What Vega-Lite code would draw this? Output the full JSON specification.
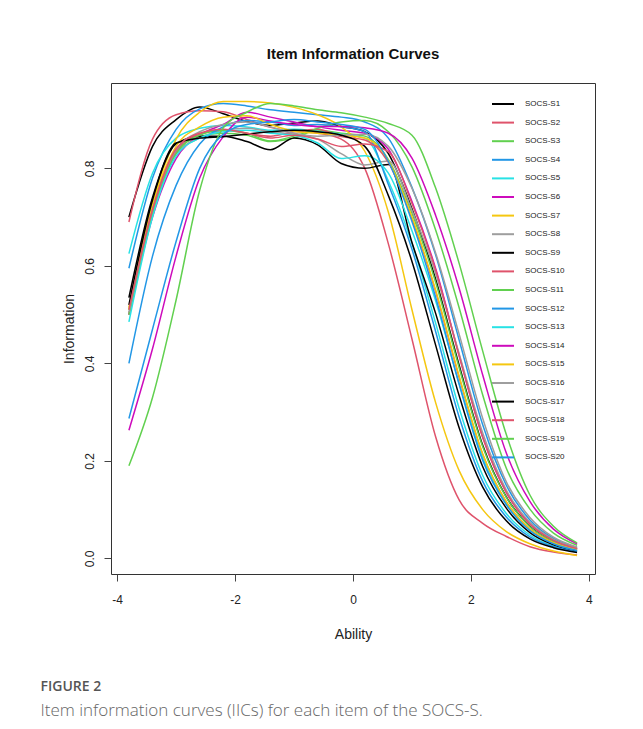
{
  "$schema": "https://vega.github.io/schema/vega-lite/v6.json",
  "background": "white",
  "padding": {"left": 40, "top": 46, "right": 5, "bottom": 5},
  "title": {
    "text": "FIGURE 2",
    "subtitle": "Item information curves (IICs) for each item of the SOCS-S.",
    "orient": "bottom", "anchor": "start", "frame": "bounds", "dx": -21, "offset": 38,
    "font": "Open Sans", "fontSize": 14, "fontWeight": 600, "color": "#555555",
    "subtitleFont": "Open Sans", "subtitleFontSize": 17, "subtitleFontWeight": 300,
    "subtitleColor": "#666666", "subtitlePadding": 9
  },
  "vconcat": [
    {
      "title": {"text": "Item Information Curves", "font": "Liberation Sans", "fontSize": 15, "fontWeight": "bold", "color": "#111111", "offset": 21, "anchor": "middle"},
      "width": 484,
      "height": 491,
      "data": {"values": [
{"item":"SOCS-S1","ability":-3.8,"info":0.70},{"item":"SOCS-S1","ability":-3.4,"info":0.845},{"item":"SOCS-S1","ability":-3.0,"info":0.90},{"item":"SOCS-S1","ability":-2.6,"info":0.926},{"item":"SOCS-S1","ability":-2.2,"info":0.912},{"item":"SOCS-S1","ability":-1.8,"info":0.896},{"item":"SOCS-S1","ability":-1.4,"info":0.888},{"item":"SOCS-S1","ability":-1.0,"info":0.893},{"item":"SOCS-S1","ability":-0.6,"info":0.897},{"item":"SOCS-S1","ability":-0.2,"info":0.886},{"item":"SOCS-S1","ability":0.2,"info":0.875},{"item":"SOCS-S1","ability":0.6,"info":0.83},{"item":"SOCS-S1","ability":1.0,"info":0.717},{"item":"SOCS-S1","ability":1.4,"info":0.573},{"item":"SOCS-S1","ability":1.8,"info":0.396},{"item":"SOCS-S1","ability":2.2,"info":0.232},{"item":"SOCS-S1","ability":2.6,"info":0.126},{"item":"SOCS-S1","ability":3.0,"info":0.066},{"item":"SOCS-S1","ability":3.4,"info":0.035},{"item":"SOCS-S1","ability":3.8,"info":0.019},
{"item":"SOCS-S2","ability":-3.8,"info":0.69},{"item":"SOCS-S2","ability":-3.4,"info":0.86},{"item":"SOCS-S2","ability":-3.0,"info":0.91},{"item":"SOCS-S2","ability":-2.6,"info":0.918},{"item":"SOCS-S2","ability":-2.2,"info":0.916},{"item":"SOCS-S2","ability":-1.8,"info":0.90},{"item":"SOCS-S2","ability":-1.4,"info":0.884},{"item":"SOCS-S2","ability":-1.0,"info":0.876},{"item":"SOCS-S2","ability":-0.6,"info":0.872},{"item":"SOCS-S2","ability":-0.2,"info":0.86},{"item":"SOCS-S2","ability":0.2,"info":0.80},{"item":"SOCS-S2","ability":0.6,"info":0.645},{"item":"SOCS-S2","ability":1.0,"info":0.45},{"item":"SOCS-S2","ability":1.4,"info":0.25},{"item":"SOCS-S2","ability":1.8,"info":0.12},{"item":"SOCS-S2","ability":2.2,"info":0.072},{"item":"SOCS-S2","ability":2.6,"info":0.045},{"item":"SOCS-S2","ability":3.0,"info":0.024},{"item":"SOCS-S2","ability":3.4,"info":0.013},{"item":"SOCS-S2","ability":3.8,"info":0.007},
{"item":"SOCS-S3","ability":-3.8,"info":0.51},{"item":"SOCS-S3","ability":-3.4,"info":0.72},{"item":"SOCS-S3","ability":-3.0,"info":0.835},{"item":"SOCS-S3","ability":-2.6,"info":0.865},{"item":"SOCS-S3","ability":-2.2,"info":0.872},{"item":"SOCS-S3","ability":-1.8,"info":0.868},{"item":"SOCS-S3","ability":-1.4,"info":0.855},{"item":"SOCS-S3","ability":-1.0,"info":0.862},{"item":"SOCS-S3","ability":-0.6,"info":0.878},{"item":"SOCS-S3","ability":-0.2,"info":0.872},{"item":"SOCS-S3","ability":0.2,"info":0.866},{"item":"SOCS-S3","ability":0.6,"info":0.818},{"item":"SOCS-S3","ability":1.0,"info":0.708},{"item":"SOCS-S3","ability":1.4,"info":0.567},{"item":"SOCS-S3","ability":1.8,"info":0.391},{"item":"SOCS-S3","ability":2.2,"info":0.229},{"item":"SOCS-S3","ability":2.6,"info":0.125},{"item":"SOCS-S3","ability":3.0,"info":0.065},{"item":"SOCS-S3","ability":3.4,"info":0.035},{"item":"SOCS-S3","ability":3.8,"info":0.019},
{"item":"SOCS-S4","ability":-3.8,"info":0.595},{"item":"SOCS-S4","ability":-3.4,"info":0.78},{"item":"SOCS-S4","ability":-3.0,"info":0.88},{"item":"SOCS-S4","ability":-2.6,"info":0.922},{"item":"SOCS-S4","ability":-2.2,"info":0.933},{"item":"SOCS-S4","ability":-1.8,"info":0.928},{"item":"SOCS-S4","ability":-1.4,"info":0.92},{"item":"SOCS-S4","ability":-1.0,"info":0.915},{"item":"SOCS-S4","ability":-0.6,"info":0.91},{"item":"SOCS-S4","ability":-0.2,"info":0.905},{"item":"SOCS-S4","ability":0.2,"info":0.895},{"item":"SOCS-S4","ability":0.6,"info":0.862},{"item":"SOCS-S4","ability":1.0,"info":0.761},{"item":"SOCS-S4","ability":1.4,"info":0.623},{"item":"SOCS-S4","ability":1.8,"info":0.448},{"item":"SOCS-S4","ability":2.2,"info":0.274},{"item":"SOCS-S4","ability":2.6,"info":0.15},{"item":"SOCS-S4","ability":3.0,"info":0.079},{"item":"SOCS-S4","ability":3.4,"info":0.041},{"item":"SOCS-S4","ability":3.8,"info":0.022},
{"item":"SOCS-S5","ability":-3.8,"info":0.625},{"item":"SOCS-S5","ability":-3.4,"info":0.79},{"item":"SOCS-S5","ability":-3.0,"info":0.862},{"item":"SOCS-S5","ability":-2.6,"info":0.882},{"item":"SOCS-S5","ability":-2.2,"info":0.888},{"item":"SOCS-S5","ability":-1.8,"info":0.885},{"item":"SOCS-S5","ability":-1.4,"info":0.878},{"item":"SOCS-S5","ability":-1.0,"info":0.88},{"item":"SOCS-S5","ability":-0.6,"info":0.876},{"item":"SOCS-S5","ability":-0.2,"info":0.87},{"item":"SOCS-S5","ability":0.2,"info":0.862},{"item":"SOCS-S5","ability":0.6,"info":0.774},{"item":"SOCS-S5","ability":1.0,"info":0.646},{"item":"SOCS-S5","ability":1.4,"info":0.483},{"item":"SOCS-S5","ability":1.8,"info":0.308},{"item":"SOCS-S5","ability":2.2,"info":0.17},{"item":"SOCS-S5","ability":2.6,"info":0.092},{"item":"SOCS-S5","ability":3.0,"info":0.048},{"item":"SOCS-S5","ability":3.4,"info":0.025},{"item":"SOCS-S5","ability":3.8,"info":0.014},
{"item":"SOCS-S6","ability":-3.8,"info":0.50},{"item":"SOCS-S6","ability":-3.4,"info":0.70},{"item":"SOCS-S6","ability":-3.0,"info":0.82},{"item":"SOCS-S6","ability":-2.6,"info":0.868},{"item":"SOCS-S6","ability":-2.2,"info":0.89},{"item":"SOCS-S6","ability":-1.8,"info":0.915},{"item":"SOCS-S6","ability":-1.4,"info":0.905},{"item":"SOCS-S6","ability":-1.0,"info":0.895},{"item":"SOCS-S6","ability":-0.6,"info":0.885},{"item":"SOCS-S6","ability":-0.2,"info":0.878},{"item":"SOCS-S6","ability":0.2,"info":0.872},{"item":"SOCS-S6","ability":0.6,"info":0.839},{"item":"SOCS-S6","ability":1.0,"info":0.732},{"item":"SOCS-S6","ability":1.4,"info":0.595},{"item":"SOCS-S6","ability":1.8,"info":0.417},{"item":"SOCS-S6","ability":2.2,"info":0.249},{"item":"SOCS-S6","ability":2.6,"info":0.136},{"item":"SOCS-S6","ability":3.0,"info":0.071},{"item":"SOCS-S6","ability":3.4,"info":0.038},{"item":"SOCS-S6","ability":3.8,"info":0.02},
{"item":"SOCS-S7","ability":-3.8,"info":0.51},{"item":"SOCS-S7","ability":-3.4,"info":0.73},{"item":"SOCS-S7","ability":-3.0,"info":0.86},{"item":"SOCS-S7","ability":-2.6,"info":0.915},{"item":"SOCS-S7","ability":-2.2,"info":0.937},{"item":"SOCS-S7","ability":-1.8,"info":0.937},{"item":"SOCS-S7","ability":-1.4,"info":0.934},{"item":"SOCS-S7","ability":-1.0,"info":0.925},{"item":"SOCS-S7","ability":-0.6,"info":0.91},{"item":"SOCS-S7","ability":-0.2,"info":0.885},{"item":"SOCS-S7","ability":0.2,"info":0.835},{"item":"SOCS-S7","ability":0.6,"info":0.71},{"item":"SOCS-S7","ability":1.0,"info":0.51},{"item":"SOCS-S7","ability":1.4,"info":0.32},{"item":"SOCS-S7","ability":1.8,"info":0.18},{"item":"SOCS-S7","ability":2.2,"info":0.10},{"item":"SOCS-S7","ability":2.6,"info":0.055},{"item":"SOCS-S7","ability":3.0,"info":0.03},{"item":"SOCS-S7","ability":3.4,"info":0.015},{"item":"SOCS-S7","ability":3.8,"info":0.006},
{"item":"SOCS-S8","ability":-3.8,"info":0.50},{"item":"SOCS-S8","ability":-3.4,"info":0.71},{"item":"SOCS-S8","ability":-3.0,"info":0.83},{"item":"SOCS-S8","ability":-2.6,"info":0.862},{"item":"SOCS-S8","ability":-2.2,"info":0.878},{"item":"SOCS-S8","ability":-1.8,"info":0.882},{"item":"SOCS-S8","ability":-1.4,"info":0.875},{"item":"SOCS-S8","ability":-1.0,"info":0.87},{"item":"SOCS-S8","ability":-0.6,"info":0.86},{"item":"SOCS-S8","ability":-0.2,"info":0.83},{"item":"SOCS-S8","ability":0.2,"info":0.807},{"item":"SOCS-S8","ability":0.6,"info":0.815},{"item":"SOCS-S8","ability":1.0,"info":0.714},{"item":"SOCS-S8","ability":1.4,"info":0.585},{"item":"SOCS-S8","ability":1.8,"info":0.42},{"item":"SOCS-S8","ability":2.2,"info":0.257},{"item":"SOCS-S8","ability":2.6,"info":0.14},{"item":"SOCS-S8","ability":3.0,"info":0.074},{"item":"SOCS-S8","ability":3.4,"info":0.039},{"item":"SOCS-S8","ability":3.8,"info":0.021},
{"item":"SOCS-S9","ability":-3.8,"info":0.535},{"item":"SOCS-S9","ability":-3.4,"info":0.74},{"item":"SOCS-S9","ability":-3.0,"info":0.85},{"item":"SOCS-S9","ability":-2.6,"info":0.866},{"item":"SOCS-S9","ability":-2.2,"info":0.866},{"item":"SOCS-S9","ability":-1.8,"info":0.855},{"item":"SOCS-S9","ability":-1.4,"info":0.838},{"item":"SOCS-S9","ability":-1.0,"info":0.862},{"item":"SOCS-S9","ability":-0.6,"info":0.848},{"item":"SOCS-S9","ability":-0.2,"info":0.81},{"item":"SOCS-S9","ability":0.2,"info":0.80},{"item":"SOCS-S9","ability":0.6,"info":0.808},{"item":"SOCS-S9","ability":1.0,"info":0.648},{"item":"SOCS-S9","ability":1.4,"info":0.503},{"item":"SOCS-S9","ability":1.8,"info":0.334},{"item":"SOCS-S9","ability":2.2,"info":0.188},{"item":"SOCS-S9","ability":2.6,"info":0.103},{"item":"SOCS-S9","ability":3.0,"info":0.053},{"item":"SOCS-S9","ability":3.4,"info":0.028},{"item":"SOCS-S9","ability":3.8,"info":0.015},
{"item":"SOCS-S10","ability":-3.8,"info":0.50},{"item":"SOCS-S10","ability":-3.4,"info":0.71},{"item":"SOCS-S10","ability":-3.0,"info":0.835},{"item":"SOCS-S10","ability":-2.6,"info":0.87},{"item":"SOCS-S10","ability":-2.2,"info":0.878},{"item":"SOCS-S10","ability":-1.8,"info":0.872},{"item":"SOCS-S10","ability":-1.4,"info":0.866},{"item":"SOCS-S10","ability":-1.0,"info":0.875},{"item":"SOCS-S10","ability":-0.6,"info":0.88},{"item":"SOCS-S10","ability":-0.2,"info":0.865},{"item":"SOCS-S10","ability":0.2,"info":0.858},{"item":"SOCS-S10","ability":0.6,"info":0.812},{"item":"SOCS-S10","ability":1.0,"info":0.696},{"item":"SOCS-S10","ability":1.4,"info":0.548},{"item":"SOCS-S10","ability":1.8,"info":0.371},{"item":"SOCS-S10","ability":2.2,"info":0.213},{"item":"SOCS-S10","ability":2.6,"info":0.116},{"item":"SOCS-S10","ability":3.0,"info":0.06},{"item":"SOCS-S10","ability":3.4,"info":0.032},{"item":"SOCS-S10","ability":3.8,"info":0.017},
{"item":"SOCS-S11","ability":-3.8,"info":0.50},{"item":"SOCS-S11","ability":-3.4,"info":0.705},{"item":"SOCS-S11","ability":-3.0,"info":0.83},{"item":"SOCS-S11","ability":-2.6,"info":0.868},{"item":"SOCS-S11","ability":-2.2,"info":0.878},{"item":"SOCS-S11","ability":-1.8,"info":0.872},{"item":"SOCS-S11","ability":-1.4,"info":0.856},{"item":"SOCS-S11","ability":-1.0,"info":0.866},{"item":"SOCS-S11","ability":-0.6,"info":0.882},{"item":"SOCS-S11","ability":-0.2,"info":0.895},{"item":"SOCS-S11","ability":0.2,"info":0.898},{"item":"SOCS-S11","ability":0.6,"info":0.875},{"item":"SOCS-S11","ability":1.0,"info":0.803},{"item":"SOCS-S11","ability":1.4,"info":0.674},{"item":"SOCS-S11","ability":1.8,"info":0.514},{"item":"SOCS-S11","ability":2.2,"info":0.335},{"item":"SOCS-S11","ability":2.6,"info":0.185},{"item":"SOCS-S11","ability":3.0,"info":0.101},{"item":"SOCS-S11","ability":3.4,"info":0.052},{"item":"SOCS-S11","ability":3.8,"info":0.027},
{"item":"SOCS-S12","ability":-3.8,"info":0.40},{"item":"SOCS-S12","ability":-3.4,"info":0.62},{"item":"SOCS-S12","ability":-3.0,"info":0.765},{"item":"SOCS-S12","ability":-2.6,"info":0.85},{"item":"SOCS-S12","ability":-2.2,"info":0.885},{"item":"SOCS-S12","ability":-1.8,"info":0.898},{"item":"SOCS-S12","ability":-1.4,"info":0.895},{"item":"SOCS-S12","ability":-1.0,"info":0.888},{"item":"SOCS-S12","ability":-0.6,"info":0.89},{"item":"SOCS-S12","ability":-0.2,"info":0.885},{"item":"SOCS-S12","ability":0.2,"info":0.875},{"item":"SOCS-S12","ability":0.6,"info":0.767},{"item":"SOCS-S12","ability":1.0,"info":0.634},{"item":"SOCS-S12","ability":1.4,"info":0.466},{"item":"SOCS-S12","ability":1.8,"info":0.29},{"item":"SOCS-S12","ability":2.2,"info":0.158},{"item":"SOCS-S12","ability":2.6,"info":0.085},{"item":"SOCS-S12","ability":3.0,"info":0.044},{"item":"SOCS-S12","ability":3.4,"info":0.024},{"item":"SOCS-S12","ability":3.8,"info":0.013},
{"item":"SOCS-S13","ability":-3.8,"info":0.485},{"item":"SOCS-S13","ability":-3.4,"info":0.70},{"item":"SOCS-S13","ability":-3.0,"info":0.825},{"item":"SOCS-S13","ability":-2.6,"info":0.862},{"item":"SOCS-S13","ability":-2.2,"info":0.875},{"item":"SOCS-S13","ability":-1.8,"info":0.878},{"item":"SOCS-S13","ability":-1.4,"info":0.872},{"item":"SOCS-S13","ability":-1.0,"info":0.868},{"item":"SOCS-S13","ability":-0.6,"info":0.852},{"item":"SOCS-S13","ability":-0.2,"info":0.82},{"item":"SOCS-S13","ability":0.2,"info":0.826},{"item":"SOCS-S13","ability":0.6,"info":0.79},{"item":"SOCS-S13","ability":1.0,"info":0.672},{"item":"SOCS-S13","ability":1.4,"info":0.529},{"item":"SOCS-S13","ability":1.8,"info":0.359},{"item":"SOCS-S13","ability":2.2,"info":0.206},{"item":"SOCS-S13","ability":2.6,"info":0.112},{"item":"SOCS-S13","ability":3.0,"info":0.058},{"item":"SOCS-S13","ability":3.4,"info":0.031},{"item":"SOCS-S13","ability":3.8,"info":0.017},
{"item":"SOCS-S14","ability":-3.8,"info":0.263},{"item":"SOCS-S14","ability":-3.4,"info":0.43},{"item":"SOCS-S14","ability":-3.0,"info":0.62},{"item":"SOCS-S14","ability":-2.6,"info":0.78},{"item":"SOCS-S14","ability":-2.2,"info":0.865},{"item":"SOCS-S14","ability":-1.8,"info":0.905},{"item":"SOCS-S14","ability":-1.4,"info":0.897},{"item":"SOCS-S14","ability":-1.0,"info":0.89},{"item":"SOCS-S14","ability":-0.6,"info":0.886},{"item":"SOCS-S14","ability":-0.2,"info":0.886},{"item":"SOCS-S14","ability":0.2,"info":0.883},{"item":"SOCS-S14","ability":0.6,"info":0.872},{"item":"SOCS-S14","ability":1.0,"info":0.821},{"item":"SOCS-S14","ability":1.4,"info":0.704},{"item":"SOCS-S14","ability":1.8,"info":0.554},{"item":"SOCS-S14","ability":2.2,"info":0.376},{"item":"SOCS-S14","ability":2.6,"info":0.216},{"item":"SOCS-S14","ability":3.0,"info":0.117},{"item":"SOCS-S14","ability":3.4,"info":0.06},{"item":"SOCS-S14","ability":3.8,"info":0.03},
{"item":"SOCS-S15","ability":-3.8,"info":0.515},{"item":"SOCS-S15","ability":-3.4,"info":0.725},{"item":"SOCS-S15","ability":-3.0,"info":0.845},{"item":"SOCS-S15","ability":-2.6,"info":0.885},{"item":"SOCS-S15","ability":-2.2,"info":0.905},{"item":"SOCS-S15","ability":-1.8,"info":0.908},{"item":"SOCS-S15","ability":-1.4,"info":0.89},{"item":"SOCS-S15","ability":-1.0,"info":0.876},{"item":"SOCS-S15","ability":-0.6,"info":0.872},{"item":"SOCS-S15","ability":-0.2,"info":0.868},{"item":"SOCS-S15","ability":0.2,"info":0.862},{"item":"SOCS-S15","ability":0.6,"info":0.816},{"item":"SOCS-S15","ability":1.0,"info":0.70},{"item":"SOCS-S15","ability":1.4,"info":0.551},{"item":"SOCS-S15","ability":1.8,"info":0.374},{"item":"SOCS-S15","ability":2.2,"info":0.214},{"item":"SOCS-S15","ability":2.6,"info":0.116},{"item":"SOCS-S15","ability":3.0,"info":0.06},{"item":"SOCS-S15","ability":3.4,"info":0.032},{"item":"SOCS-S15","ability":3.8,"info":0.0175},
{"item":"SOCS-S16","ability":-3.8,"info":0.505},{"item":"SOCS-S16","ability":-3.4,"info":0.715},{"item":"SOCS-S16","ability":-3.0,"info":0.838},{"item":"SOCS-S16","ability":-2.6,"info":0.875},{"item":"SOCS-S16","ability":-2.2,"info":0.89},{"item":"SOCS-S16","ability":-1.8,"info":0.895},{"item":"SOCS-S16","ability":-1.4,"info":0.885},{"item":"SOCS-S16","ability":-1.0,"info":0.872},{"item":"SOCS-S16","ability":-0.6,"info":0.866},{"item":"SOCS-S16","ability":-0.2,"info":0.868},{"item":"SOCS-S16","ability":0.2,"info":0.87},{"item":"SOCS-S16","ability":0.6,"info":0.845},{"item":"SOCS-S16","ability":1.0,"info":0.759},{"item":"SOCS-S16","ability":1.4,"info":0.627},{"item":"SOCS-S16","ability":1.8,"info":0.46},{"item":"SOCS-S16","ability":2.2,"info":0.287},{"item":"SOCS-S16","ability":2.6,"info":0.157},{"item":"SOCS-S16","ability":3.0,"info":0.084},{"item":"SOCS-S16","ability":3.4,"info":0.0435},{"item":"SOCS-S16","ability":3.8,"info":0.0235},
{"item":"SOCS-S17","ability":-3.8,"info":0.52},{"item":"SOCS-S17","ability":-3.4,"info":0.735},{"item":"SOCS-S17","ability":-3.0,"info":0.852},{"item":"SOCS-S17","ability":-2.6,"info":0.862},{"item":"SOCS-S17","ability":-2.2,"info":0.865},{"item":"SOCS-S17","ability":-1.8,"info":0.87},{"item":"SOCS-S17","ability":-1.4,"info":0.875},{"item":"SOCS-S17","ability":-1.0,"info":0.878},{"item":"SOCS-S17","ability":-0.6,"info":0.875},{"item":"SOCS-S17","ability":-0.2,"info":0.868},{"item":"SOCS-S17","ability":0.2,"info":0.845},{"item":"SOCS-S17","ability":0.6,"info":0.744},{"item":"SOCS-S17","ability":1.0,"info":0.609},{"item":"SOCS-S17","ability":1.4,"info":0.438},{"item":"SOCS-S17","ability":1.8,"info":0.268},{"item":"SOCS-S17","ability":2.2,"info":0.146},{"item":"SOCS-S17","ability":2.6,"info":0.077},{"item":"SOCS-S17","ability":3.0,"info":0.04},{"item":"SOCS-S17","ability":3.4,"info":0.022},{"item":"SOCS-S17","ability":3.8,"info":0.012},
{"item":"SOCS-S18","ability":-3.8,"info":0.51},{"item":"SOCS-S18","ability":-3.4,"info":0.715},{"item":"SOCS-S18","ability":-3.0,"info":0.84},{"item":"SOCS-S18","ability":-2.6,"info":0.872},{"item":"SOCS-S18","ability":-2.2,"info":0.88},{"item":"SOCS-S18","ability":-1.8,"info":0.872},{"item":"SOCS-S18","ability":-1.4,"info":0.862},{"item":"SOCS-S18","ability":-1.0,"info":0.868},{"item":"SOCS-S18","ability":-0.6,"info":0.86},{"item":"SOCS-S18","ability":-0.2,"info":0.845},{"item":"SOCS-S18","ability":0.2,"info":0.85},{"item":"SOCS-S18","ability":0.6,"info":0.834},{"item":"SOCS-S18","ability":1.0,"info":0.728},{"item":"SOCS-S18","ability":1.4,"info":0.592},{"item":"SOCS-S18","ability":1.8,"info":0.415},{"item":"SOCS-S18","ability":2.2,"info":0.248},{"item":"SOCS-S18","ability":2.6,"info":0.135},{"item":"SOCS-S18","ability":3.0,"info":0.07},{"item":"SOCS-S18","ability":3.4,"info":0.037},{"item":"SOCS-S18","ability":3.8,"info":0.02},
{"item":"SOCS-S19","ability":-3.8,"info":0.19},{"item":"SOCS-S19","ability":-3.4,"info":0.33},{"item":"SOCS-S19","ability":-3.0,"info":0.53},{"item":"SOCS-S19","ability":-2.6,"info":0.755},{"item":"SOCS-S19","ability":-2.2,"info":0.883},{"item":"SOCS-S19","ability":-1.8,"info":0.915},{"item":"SOCS-S19","ability":-1.4,"info":0.933},{"item":"SOCS-S19","ability":-1.0,"info":0.928},{"item":"SOCS-S19","ability":-0.6,"info":0.92},{"item":"SOCS-S19","ability":-0.2,"info":0.914},{"item":"SOCS-S19","ability":0.2,"info":0.905},{"item":"SOCS-S19","ability":0.6,"info":0.892},{"item":"SOCS-S19","ability":1.0,"info":0.868},{"item":"SOCS-S19","ability":1.4,"info":0.76},{"item":"SOCS-S19","ability":1.8,"info":0.605},{"item":"SOCS-S19","ability":2.2,"info":0.425},{"item":"SOCS-S19","ability":2.6,"info":0.254},{"item":"SOCS-S19","ability":3.0,"info":0.13},{"item":"SOCS-S19","ability":3.4,"info":0.066},{"item":"SOCS-S19","ability":3.8,"info":0.032},
{"item":"SOCS-S20","ability":-3.8,"info":0.287},{"item":"SOCS-S20","ability":-3.4,"info":0.47},{"item":"SOCS-S20","ability":-3.0,"info":0.65},{"item":"SOCS-S20","ability":-2.6,"info":0.80},{"item":"SOCS-S20","ability":-2.2,"info":0.87},{"item":"SOCS-S20","ability":-1.8,"info":0.89},{"item":"SOCS-S20","ability":-1.4,"info":0.895},{"item":"SOCS-S20","ability":-1.0,"info":0.90},{"item":"SOCS-S20","ability":-0.6,"info":0.895},{"item":"SOCS-S20","ability":-0.2,"info":0.89},{"item":"SOCS-S20","ability":0.2,"info":0.88},{"item":"SOCS-S20","ability":0.6,"info":0.814},{"item":"SOCS-S20","ability":1.0,"info":0.691},{"item":"SOCS-S20","ability":1.4,"info":0.536},{"item":"SOCS-S20","ability":1.8,"info":0.357},{"item":"SOCS-S20","ability":2.2,"info":0.201},{"item":"SOCS-S20","ability":2.6,"info":0.11},{"item":"SOCS-S20","ability":3.0,"info":0.057},{"item":"SOCS-S20","ability":3.4,"info":0.03},{"item":"SOCS-S20","ability":3.8,"info":0.016}
      ]},
      "mark": {"type": "line", "strokeWidth": 1.5, "interpolate": "monotone", "clip": true},
      "encoding": {
        "x": {"field": "ability", "type": "quantitative",
          "scale": {"domain": [-4.104, 4.104], "nice": false, "zero": false},
          "axis": {"title": "Ability", "values": [-4, -2, 0, 2, 4], "labelExpr": "toString(datum.value)", "grid": false, "domain": false, "tickSize": 7, "labelPadding": 13, "titlePadding": 22}},
        "y": {"field": "info", "type": "quantitative",
          "scale": {"domain": [-0.032, 0.975], "nice": false, "zero": false},
          "axis": {"title": "Information", "values": [0, 0.2, 0.4, 0.6, 0.8], "format": ".1f", "grid": false, "domain": false, "tickSize": 7, "labelAngle": -90, "labelPadding": 8, "titlePadding": 7}},
        "color": {"field": "item", "type": "nominal",
          "scale": {
            "domain": ["SOCS-S1","SOCS-S2","SOCS-S3","SOCS-S4","SOCS-S5","SOCS-S6","SOCS-S7","SOCS-S8","SOCS-S9","SOCS-S10","SOCS-S11","SOCS-S12","SOCS-S13","SOCS-S14","SOCS-S15","SOCS-S16","SOCS-S17","SOCS-S18","SOCS-S19","SOCS-S20"],
            "range": ["#000000","#DF536B","#61D04F","#2297E6","#28E2E5","#CD0BBC","#F5C710","#9E9E9E","#000000","#DF536B","#61D04F","#2297E6","#28E2E5","#CD0BBC","#F5C710","#9E9E9E","#000000","#DF536B","#61D04F","#2297E6"]
          },
          "legend": {"title": null, "orient": "none", "legendX": 380, "legendY": 9, "symbolType": "stroke", "symbolSize": 484, "symbolStrokeWidth": 2, "labelFontSize": 8, "labelColor": "#222222", "labelOffset": 10, "rowPadding": 2.6, "padding": 0, "symbolOpacity": 1}}
      }
    }
  ],
  "config": {
    "font": "Liberation Sans",
    "view": {"stroke": "#333333", "strokeWidth": 1},
    "axis": {"labelFont": "Liberation Sans", "labelFontSize": 12, "labelColor": "#222222", "tickColor": "#444444", "titleFont": "Liberation Sans", "titleFontSize": 14, "titleFontWeight": "normal", "titleColor": "#222222"},
    "legend": {"labelFont": "Liberation Sans"}
  }
}
